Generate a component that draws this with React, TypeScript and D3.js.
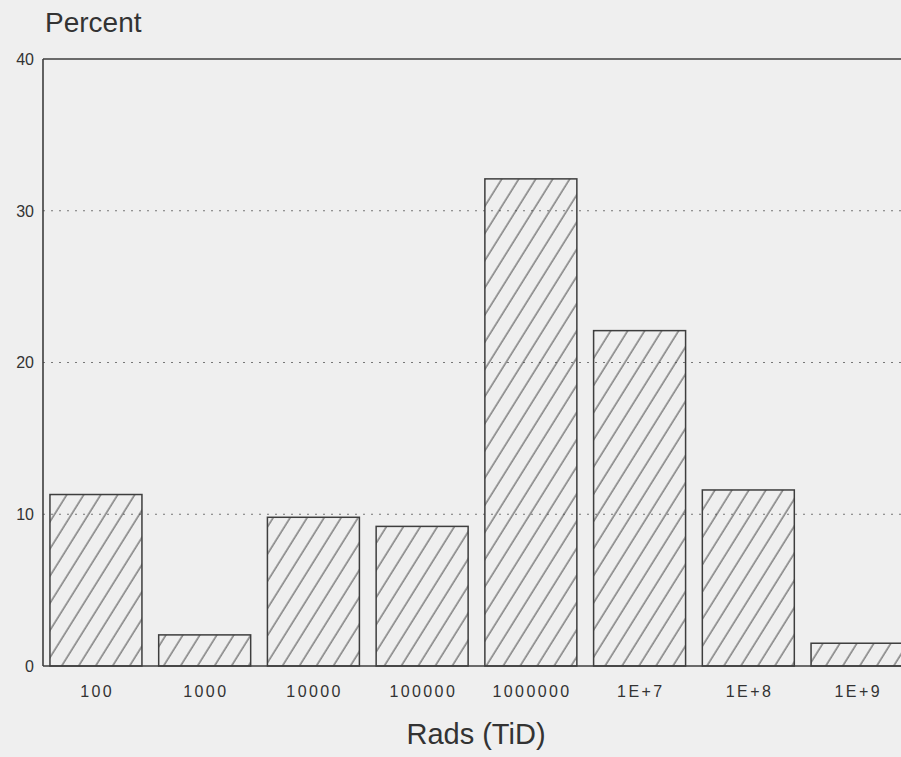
import React from "react";
import * as d3 from "d3";

const categories = ["100", "1000", "10000", "100000", "1000000", "1E+7", "1E+8", "1E+9"];
const percents = [11.3, 2.05, 9.8, 9.2, 32.1, 22.1, 11.6, 1.5];
const yTicks = [0, 10, 20, 30, 40];
const gridTicks = [10, 20, 30];

const W = 901;
const H = 757;
const font = "'Liberation Sans', Arial, Helvetica, sans-serif";
const ink = "#3e3e3e";

const App: React.FC = () => {
  const x = d3
    .scaleBand<string>()
    .domain(categories)
    .range([43, 910])
    .paddingInner(0.154)
    .paddingOuter(0.064);

  const y = d3.scaleLinear().domain([0, 40]).range([666, 59]);

  return (
    <svg
      width={W}
      height={H}
      style={{ position: "absolute", left: 0, top: 0, background: "#efefef", overflow: "hidden" }}
    >
      <defs>
        <pattern
          id="hatch"
          patternUnits="userSpaceOnUse"
          width={14.4}
          height={40}
          patternTransform="rotate(32)"
        >
          <line x1={2} y1={0} x2={2} y2={40} stroke="#444" strokeWidth={1} />
        </pattern>
      </defs>

      <rect x={0} y={0} width={W} height={H} fill="#efefef" />

      {/* grid */}
      {gridTicks.map((t) => (
        <line
          key={t}
          x1={43}
          x2={W}
          y1={y(t)}
          y2={y(t)}
          stroke="#777"
          strokeWidth={1.2}
          strokeDasharray="2 6"
        />
      ))}

      {/* frame */}
      <line x1={43} x2={W + 10} y1={y(40)} y2={y(40)} stroke={ink} strokeWidth={1.6} />
      <line x1={43} x2={43} y1={y(40)} y2={y(0)} stroke={ink} strokeWidth={1.6} />

      {/* bars */}
      {categories.map((c, i) => (
        <rect
          key={c}
          x={x(c)}
          y={y(percents[i])}
          width={x.bandwidth()}
          height={y(0) - y(percents[i])}
          fill="url(#hatch)"
          stroke={ink}
          strokeWidth={1.5}
        />
      ))}

      <line x1={43} x2={W + 10} y1={y(0)} y2={y(0)} stroke={ink} strokeWidth={1.6} />

      {/* y tick labels */}
      {yTicks.map((t) => (
        <text
          key={t}
          x={34}
          y={y(t)}
          dy="0.36em"
          textAnchor="end"
          fontFamily={font}
          fontSize={16}
          fill="#333"
        >
          {t}
        </text>
      ))}

      {/* x tick labels */}
      {categories.map((c) => (
        <text
          key={c}
          x={(x(c) ?? 0) + x.bandwidth() / 2 + 1.2}
          y={697}
          textAnchor="middle"
          fontFamily={font}
          fontSize={16}
          letterSpacing={2.4}
          fill="#333"
        >
          {c}
        </text>
      ))}

      <text x={45} y={32} fontFamily={font} fontSize={28} fill="#333">
        Percent
      </text>
      <text x={476} y={744} textAnchor="middle" fontFamily={font} fontSize={29} fill="#333">
        Rads (TiD)
      </text>
    </svg>
  );
};

export default App;
